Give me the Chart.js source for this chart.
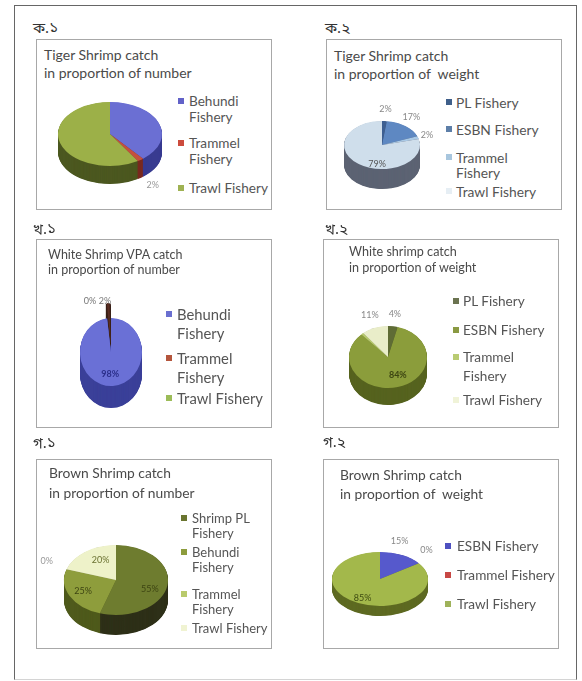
<!DOCTYPE html>
<html>
<head>
<meta charset="utf-8">
<script src="https://cdn.jsdelivr.net/npm/chart.js@4.4.1/dist/chart.umd.min.js"></script>
<style>
  html, body { margin: 0; padding: 0; background: #fff; }
  #page { position: relative; width: 582px; height: 681px; overflow: hidden; font-family: Lato, "Noto Sans", sans-serif; color: #555; }
  .frame { position: absolute; left: 14px; top: 5px; width: 563px; height: 675px; border: 1px solid #666; border-bottom-color: #d4d4d4; box-sizing: border-box; }
  .tag { position: absolute; font-size: 15px; line-height: 18px; color: #333; font-family: "Noto Sans Bengali", "Noto Sans", Lato, sans-serif; white-space: nowrap; }
  .box { position: absolute; border: 1px solid #a8a8a8; box-sizing: border-box; }
  .title { position: absolute; white-space: nowrap; color: #4a4a4a; }
  .leg { position: absolute; color: #555; }
  .mk { position: absolute; width: 6px; height: 6px; }
  canvas { position: absolute; }
</style>
</head>
<body>
<div id="page"><div class="frame"></div></div>
<script>
// catch shares (%) by fishery
const tigerNumCats = ['Behundi Fishery', 'Trammel Fishery', 'Trawl Fishery'];
const tigerNumPct = [39, 2, 59];

const tigerWtCats = ['PL Fishery', 'ESBN Fishery', 'Trammel Fishery', 'Trawl Fishery'];
const tigerWtPct = [2, 17, 2, 79];

const whiteNumCats = ['Behundi Fishery', 'Trammel Fishery', 'Trawl Fishery'];
const whiteNumPct = [98, 2, 0];

const whiteWtCats = ['PL Fishery', 'ESBN Fishery', 'Trammel Fishery', 'Trawl Fishery'];
const whiteWtPct = [4, 84, 1, 11];

const brownNumCats = ['Shrimp PL Fishery', 'Behundi Fishery', 'Trammel Fishery', 'Trawl Fishery'];
const brownNumPct = [55, 25, 0, 20];

const brownWtCats = ['ESBN Fishery', 'Trammel Fishery', 'Trawl Fishery'];
const brownWtPct = [15, 0, 85];

const panelTags = ['ক.১', 'ক.২', 'খ.১', 'খ.২', 'গ.১', 'গ.২'];
const panelTitles = [
  ['Tiger Shrimp catch', 'in proportion of number'],
  ['Tiger Shrimp catch', 'in proportion of\u00a0 weight'],
  ['White Shrimp VPA catch', 'in proportion of number'],
  ['White shrimp catch', 'in proportion of weight'],
  ['Brown Shrimp catch', 'in proportion of number'],
  ['Brown Shrimp catch', 'in proportion of\u00a0 weight'],
];

const panels = [
  {
    cats: tigerNumCats, pct: tigerNumPct,
    tag: [33, 29], box: [36, 39, 272, 210], title: [44, 55, 18, 14],
    pie: { cx: 110, cy: 134, rx: 52, ry: 32, depth: 18 },
    top: ['#6b6fd3', '#c4503f', '#9cb048'],
    side: ['#383b90', '#7a2a20', '#4c5820'],
    mark: ['#6262c8', '#cc4b3d', '#9fb252'],
    place: [null, [1.3, 3, -1], null],
    labelColor: ['#999', '#999', '#999'], bold: [false, false, false],
    legend: { markX: 178, textX: 189, ys: [101, 143, 188], lh: 16, size: 13.6, width: 84 },
  },
  {
    cats: tigerWtCats, pct: tigerWtPct,
    tag: [325, 29], box: [326, 39, 562, 210], title: [334, 56, 18, 14],
    pie: { cx: 382, cy: 145, rx: 38, ry: 24, depth: 20 },
    top: ['#3d5f92', '#5e88c2', '#a9c9e6', '#cfdeeb'],
    side: ['#2c3a55', '#3c4c70', '#5a6478', '#5c6373'],
    mark: ['#3f5f8a', '#5d7fa8', '#a8c6de', '#e6eef4'],
    place: [[1.5, 0, 0], [1.35, -2, -2], [1.3, -2, 0], [0.6, 9, 8]],
    labelColor: ['#888', '#888', '#888', '#555'], bold: [false, false, false, false],
    legend: { markX: 446, textX: 456, ys: [102, 129, 157, 191], lh: 15, size: 13.8, width: 88 },
  },
  {
    cats: whiteNumCats, pct: whiteNumPct, offset: [0, 64, 0],
    tag: [33, 230], box: [36, 239, 272, 428], title: [48, 254, 15, 12.5],
    pie: { cx: 111, cy: 352, rx: 31, ry: 34, depth: 22 },
    top: ['#6a70d6', '#5a2e22', '#9cbc58'],
    side: ['#3b4099', '#3a2018', '#556b2f'],
    mark: ['#6a6fd0', '#b4553c', '#9cbc58'],
    place: [[0.65, -2, 0], [1.5, -3, 0], [1.5, -21, 0]],
    labelColor: ['#2b2f8a', '#777', '#777'], bold: [true, false, false],
    legend: { markX: 166, textX: 177, ys: [314, 358, 398], lh: 19, size: 14.8, width: 95 },
  },
  {
    cats: whiteWtCats, pct: whiteWtPct,
    tag: [325, 230], box: [323, 239, 559, 428], title: [349, 252, 16, 12.6],
    pie: { cx: 388, cy: 357, rx: 39, ry: 31, depth: 17 },
    top: ['#5f6c35', '#8b9d3b', '#b7c96d', '#e9edc9'],
    side: ['#3e4622', '#56631f', '#6e7a3a', '#8c9070'],
    mark: ['#6b7350', '#8a9a42', '#b9cb72', '#f0f3d8'],
    place: [[1.4, 0, 0], [0.6, 4, 0], null, [1.45, 1, 0]],
    labelColor: ['#888', '#3c4512', '#888', '#888'], bold: [false, true, false, false],
    legend: { markX: 453, textX: 463, ys: [301, 330, 357, 400], lh: 19, size: 13.6, width: 90 },
  },
  {
    cats: brownNumCats, pct: brownNumPct,
    tag: [33, 444], box: [36, 459, 272, 649], title: [49, 473, 20, 13.8],
    pie: { cx: 116, cy: 580, rx: 52, ry: 35, depth: 20 },
    top: ['#6e7c2f', '#8e9d3c', '#b8c96b', '#eef2c9'],
    side: ['#2e3018', '#4f5a1c', '#66703a', '#9a9c80'],
    mark: ['#6a7530', '#8d9c3d', '#b9ca6c', '#f0f3d2'],
    place: [[0.66, 0, 5], [0.71, 0, 0], [1.4, 0, -4], [0.6, 3, -3]],
    labelColor: ['#3d4412', '#3d4412', '#999', '#6b7232'], bold: [false, false, false, false],
    legend: { markX: 181, textX: 192, ys: [518, 552, 594, 628], lh: 15, size: 13, width: 80 },
  },
  {
    cats: brownWtCats, pct: brownWtPct,
    tag: [323, 443], box: [323, 459, 559, 649], title: [340, 474, 19, 13.8],
    pie: { cx: 380, cy: 579, rx: 48, ry: 27, depth: 10 },
    top: ['#5659cc', '#c84845', '#a3b84b'],
    side: ['#33358a', '#7a2a2a', '#5e6a22'],
    mark: ['#4e50c0', '#c84845', '#9fb25a'],
    place: [[1.5, -13, -2], [1.3, -4, -8], [0.8, 0, 0]],
    labelColor: ['#888', '#888', '#3d4a10'], bold: [false, false, false],
    legend: { markX: 445, textX: 457, ys: [546, 575, 604], lh: 16, size: 13.6, width: 112 },
  },
];

// squash the pie into an ellipse and extrude a side wall under it
const tilt3d = {
  id: 'tilt3d',
  beforeDatasetsDraw(chart, args, opts) {
    const arcs = chart.getDatasetMeta(0).data;
    const { x, y, outerRadius } = arcs[0];
    const sx = opts.rx / outerRadius;
    const sy = opts.ry / outerRadius;
    const ctx = chart.ctx;
    ctx.save();
    ctx.translate(x, y);
    ctx.scale(sx, sy);
    ctx.translate(-x, -y);
    for (let d = opts.depth; d >= 0.5; d -= 0.5) {
      arcs.forEach((arc, i) => {
        const circ = arc.endAngle - arc.startAngle;
        if (circ <= 0) return;
        const mid = (arc.startAngle + arc.endAngle) / 2;
        const off = (arc.options.offset || 0) / 4;
        const rOff = off * (1 - Math.sin(Math.min(Math.PI, circ)));
        const ox = arc.x + Math.cos(mid) * off;
        const oy = arc.y + Math.sin(mid) * off + d / sy;
        ctx.beginPath();
        ctx.moveTo(ox, oy);
        ctx.arc(ox, oy, arc.outerRadius + rOff, arc.startAngle, arc.endAngle);
        ctx.closePath();
        ctx.fillStyle = opts.side[i];
        ctx.fill();
      });
    }
  },
  afterDatasetsDraw(chart, args, opts) {
    const ctx = chart.ctx;
    ctx.restore();
    const arcs = chart.getDatasetMeta(0).data;
    const values = chart.data.datasets[0].data;
    ctx.textAlign = 'center';
    ctx.textBaseline = 'middle';
    arcs.forEach((arc, i) => {
      const p = opts.place[i];
      if (!p) return;
      const mid = (arc.startAngle + arc.endAngle) / 2;
      const [f, dx, dy] = p;
      const s = Math.sin(mid);
      const lx = arc.x + opts.rx * f * Math.cos(mid) + dx;
      const ly = arc.y + opts.ry * f * s + (f > 1 && s > 0 ? opts.depth : 0) + dy;
      ctx.font = (opts.bold[i] ? 'bold ' : '') + '9px Lato, sans-serif';
      ctx.fillStyle = opts.labelColor[i];
      ctx.fillText(values[i] + '%', lx, ly);
    });
  },
};

const page = document.getElementById('page');

function add(cls, css, text) {
  const el = document.createElement('div');
  el.className = cls;
  Object.assign(el.style, css);
  if (text !== undefined) el.textContent = text;
  page.appendChild(el);
  return el;
}

panels.forEach((p, n) => {
  add('tag', { left: p.tag[0] + 'px', top: (p.tag[1] - 9) + 'px' }, panelTags[n]);
  const [bl, bt, br, bb] = p.box;
  add('box', { left: bl + 'px', top: bt + 'px', width: (br - bl) + 'px', height: (bb - bt) + 'px' });

  const [tx, ty, tlh, tsize] = p.title;
  const t = add('title', { left: tx + 'px', top: (ty - tlh / 2) + 'px', fontSize: tsize + 'px', lineHeight: tlh + 'px' });
  t.innerHTML = panelTitles[n].join('<br>');

  const lg = p.legend;
  p.cats.forEach((c, i) => {
    const y = lg.ys[i];
    add('mk', { left: lg.markX + 'px', top: (y - 3) + 'px', background: p.mark[i] });
    add('leg', {
      left: lg.textX + 'px', top: (y - lg.lh / 2) + 'px', width: lg.width + 'px',
      fontSize: lg.size + 'px', lineHeight: lg.lh + 'px',
    }, c);
  });

  const canvas = document.createElement('canvas');
  canvas.width = 200;
  canvas.height = 200;
  canvas.style.left = (p.pie.cx - 100) + 'px';
  canvas.style.top = (p.pie.cy - 100) + 'px';
  page.appendChild(canvas);

  new Chart(canvas, {
    type: 'pie',
    data: {
      labels: p.cats,
      datasets: [{
        data: p.pct,
        backgroundColor: p.top,
        borderWidth: 0,
        offset: p.offset || 0,
        clip: false,
      }],
    },
    options: {
      responsive: false,
      animation: false,
      events: [],
      layout: { padding: 0 },
      plugins: {
        legend: { display: false },
        tooltip: { enabled: false },
        tilt3d: {
          rx: p.pie.rx, ry: p.pie.ry, depth: p.pie.depth,
          side: p.side, place: p.place, labelColor: p.labelColor, bold: p.bold,
        },
      },
    },
    plugins: [tilt3d],
  });
});
</script>
</body>
</html>
